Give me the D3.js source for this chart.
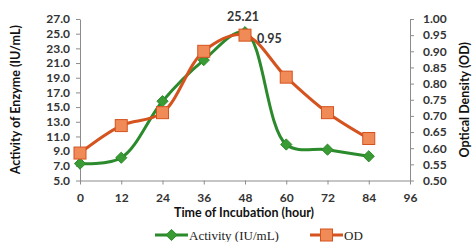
<!DOCTYPE html>
<html>
<head>
<meta charset="utf-8">
<script src="https://cdn.jsdelivr.net/npm/d3@7"></script>
<style>
  body { margin: 0; background: #fff; }
  svg { display: block; }
  .tick text { font-family: Lato, sans-serif; font-weight: 700; font-size: 12px; fill: #333; }
  .axis path, .axis line { stroke: #8c8c8c; }
  .title { font-family: Lato, sans-serif; font-weight: 700; font-size: 12.5px; fill: #111; }
  .dlabel { font-family: Lato, sans-serif; font-weight: 700; font-size: 12.5px; fill: #333; }
  .legend text { font-family: "Liberation Serif", serif; font-size: 13px; fill: #222; }
</style>
</head>
<body>
<div id="chart"></div>
<script>
(() => {
  const W = 472, H = 242;

  // data
  const hours = [0, 12, 24, 36, 48, 60, 72, 84];
  const activity = [7.3, 8.1, 15.8, 21.4, 25.21, 9.9, 9.2, 8.3];
  const od = [0.585, 0.67, 0.71, 0.90, 0.95, 0.82, 0.71, 0.63];
  const xTicks = [0, 12, 24, 36, 48, 60, 72, 84, 96];
  const leftTicks = [5, 7, 9, 11, 13, 15, 17, 19, 21, 23, 25, 27];
  const rightTicks = [0.5, 0.55, 0.6, 0.65, 0.7, 0.75, 0.8, 0.85, 0.9, 0.95, 1.0];

  const green = "#2b8a2b";
  const orangeLine = "#d4531f";
  const orangeFill = "#f08a57";

  const svg = d3.select("#chart").append("svg").attr("width", W).attr("height", H);

  const x = d3.scaleLinear().domain([0, 96]).range([80, 410]);
  const yL = d3.scaleLinear().domain([5, 27]).range([180.5, 19]);
  const yR = d3.scaleLinear().domain([0.5, 1.0]).range([180.5, 19]);

  svg.append("g")
    .attr("class", "axis")
    .attr("transform", `translate(0,${yL(5)})`)
    .call(d3.axisBottom(x).tickValues(xTicks).tickSize(4).tickSizeOuter(0).tickPadding(9).tickFormat(d3.format("d")));

  svg.append("g")
    .attr("class", "axis")
    .attr("transform", `translate(${x(0)},0)`)
    .call(d3.axisLeft(yL).tickValues(leftTicks).tickSize(4).tickSizeOuter(0).tickPadding(6).tickFormat(d3.format(".1f")));

  svg.append("g")
    .attr("class", "axis")
    .attr("transform", `translate(${x(96)},0)`)
    .call(d3.axisRight(yR).tickValues(rightTicks).tickSize(4).tickSizeOuter(0).tickPadding(9).tickFormat(d3.format(".2f")));

  // axis titles
  svg.append("text").attr("class", "title")
    .attr("transform", `translate(20,${(yL(5) + yL(27)) / 2}) rotate(-90)`)
    .attr("text-anchor", "middle")
    .text("Activity of Enzyme (IU/mL)");

  svg.append("text").attr("class", "title")
    .attr("transform", `translate(469,${(yR(0.5) + yR(1)) / 2}) rotate(-90)`)
    .attr("text-anchor", "middle")
    .text("Optical Density (OD)");

  svg.append("text").attr("class", "title")
    .attr("x", 244).attr("y", 217)
    .attr("text-anchor", "middle")
    .text("Time of Incubation (hour)");

  const curve = d3.curveCatmullRom.alpha(0.5);

  const actLine = d3.line().x((d, i) => x(hours[i])).y(d => yL(d)).curve(curve);
  const odLine = d3.line().x((d, i) => x(hours[i])).y(d => yR(d)).curve(curve);

  const diamond = d3.symbol().type(d3.symbolDiamond2).size(80);

  svg.append("path").datum(activity)
    .attr("d", actLine).attr("fill", "none")
    .attr("stroke", green).attr("stroke-width", 3);

  svg.selectAll(".act-pt").data(activity).join("path")
    .attr("class", "act-pt")
    .attr("d", diamond)
    .attr("transform", (d, i) => `translate(${x(hours[i])},${yL(d)})`)
    .attr("fill", "#3a9a34").attr("stroke", green).attr("stroke-width", 1);

  svg.append("path").datum(od)
    .attr("d", odLine).attr("fill", "none")
    .attr("stroke", orangeLine).attr("stroke-width", 3);

  const sq = 12;
  svg.selectAll(".od-pt").data(od).join("rect")
    .attr("class", "od-pt")
    .attr("x", (d, i) => x(hours[i]) - sq / 2)
    .attr("y", d => yR(d) - sq / 2)
    .attr("width", sq).attr("height", sq)
    .attr("fill", orangeFill).attr("stroke", orangeLine).attr("stroke-width", 1);

  // data labels
  svg.append("text").attr("class", "dlabel")
    .attr("x", x(48) - 2).attr("y", 21)
    .attr("text-anchor", "middle")
    .text(activity[4].toFixed(2));

  svg.append("text").attr("class", "dlabel")
    .attr("x", x(48) + 12).attr("y", yR(od[4]) + 8)
    .text(od[4].toFixed(2));

  // legend
  const lg = svg.append("g").attr("class", "legend");
  lg.append("line").attr("x1", 155).attr("x2", 188).attr("y1", 235).attr("y2", 235)
    .attr("stroke", green).attr("stroke-width", 3);
  lg.append("path").attr("d", diamond).attr("transform", "translate(171.5,235)")
    .attr("fill", "#3a9a34").attr("stroke", green);
  lg.append("text").attr("x", 189).attr("y", 239.5).text("Activity (IU/mL)");

  lg.append("line").attr("x1", 310).attr("x2", 343).attr("y1", 235).attr("y2", 235)
    .attr("stroke", orangeLine).attr("stroke-width", 3);
  lg.append("rect").attr("x", 320.5).attr("y", 229).attr("width", sq).attr("height", sq)
    .attr("fill", orangeFill).attr("stroke", orangeLine);
  lg.append("text").attr("x", 344).attr("y", 239.5).text("OD");
})();
</script>
</body>
</html>
